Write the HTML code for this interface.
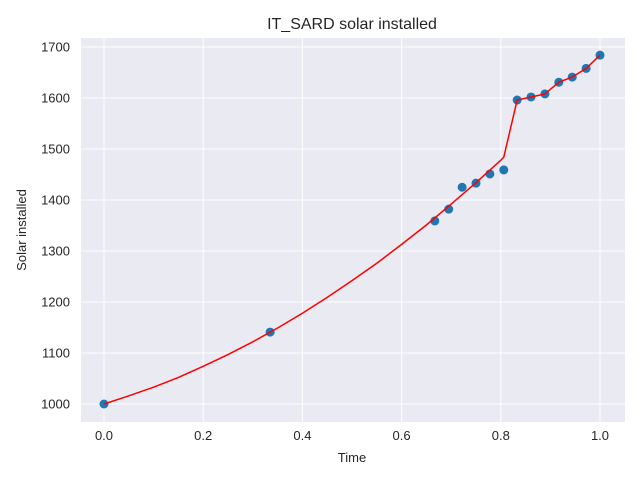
<!DOCTYPE html>
<html><head><meta charset="utf-8"><style>
body{margin:0;background:#fff;}
svg text{font-family:"Liberation Sans","DejaVu Sans",sans-serif;fill:#262626;}
</style></head><body>
<svg id="chart" width="640" height="480">
<rect x="81" y="38" width="544" height="384" fill="#eaeaf2"/>
<g id="grid"></g><g id="ticks"></g><g id="series"></g>
<text x="352" y="29" text-anchor="middle" font-size="16">IT_SARD solar installed</text>
<text x="352" y="462" text-anchor="middle" font-size="13">Time</text>
<text x="26" y="230" text-anchor="middle" font-size="13" transform="rotate(-90 26 230)">Solar installed</text>
</svg>
<script>
const times=[0,0.335,0.667,0.695,0.722,0.75,0.778,0.806,0.833,0.861,0.889,0.917,0.944,0.972,1.0];
const values=[1000,1141,1359,1382,1425,1433,1451,1459,1596,1602,1608,1631,1641,1658,1684];
const fitTimes=[0,0.05,0.1,0.15,0.2,0.25,0.3,0.35,0.4,0.45,0.5,0.55,0.6,0.65,0.7,0.75,0.8,0.806,0.833,0.861,0.889,0.917,0.944,0.972,1.0];
const fitValues=[1000,1016,1033,1052,1074,1097,1122,1149,1178,1209,1242,1276,1313,1351,1392,1434,1478,1484,1596,1602,1608,1631,1641,1658,1684];
const xTicks=[0,0.2,0.4,0.6,0.8,1.0];
const xTickLabels=["0.0","0.2","0.4","0.6","0.8","1.0"];
const yTicks=[1000,1100,1200,1300,1400,1500,1600,1700];
const NS="http://www.w3.org/2000/svg";
const X=t=>104+t*496;
const Y=v=>404-(v-1000)*0.51;
function mk(tag,attrs,parent){const e=document.createElementNS(NS,tag);for(const k in attrs)e.setAttribute(k,attrs[k]);document.getElementById(parent).appendChild(e);return e;}
xTicks.forEach((t,i)=>{
 const l=mk('line',{x1:X(t),x2:X(t),y1:38,y2:422,stroke:'#fff','stroke-width':1},'grid');
 
 
 const tx=mk('text',{x:X(t),y:440,'text-anchor':'middle','font-size':13},'ticks');
 tx.textContent=xTickLabels[i];
 
 
});
yTicks.forEach(v=>{
 const l=mk('line',{x1:81,x2:625,y1:Y(v),y2:Y(v),stroke:'#fff','stroke-width':1},'grid');
 
 
 const tx=mk('text',{x:70,y:Y(v)+4.5,'text-anchor':'end','font-size':13},'ticks');
 tx.textContent=v;
 
 
});
times.forEach((t,i)=>{
 const c=mk('circle',{cx:X(t),cy:Y(values[i]),r:4.5,fill:'#1f77b4'},'series');
 
 
});
const p=mk('polyline',{points:fitTimes.map((t,i)=>X(t)+','+Y(fitValues[i])).join(' '),fill:'none',stroke:'#ff0000','stroke-width':1.5},'series');


</script>
</body></html>
